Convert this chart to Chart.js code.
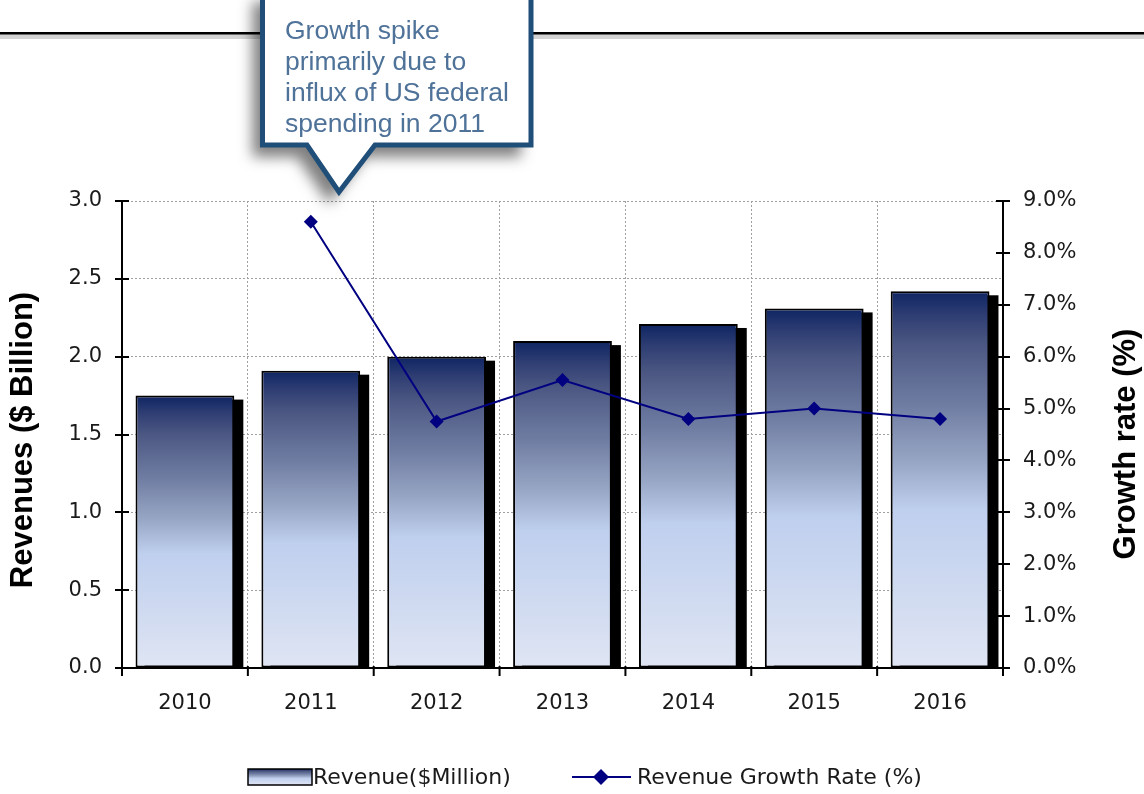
<!DOCTYPE html>
<html><head><meta charset="utf-8">
<script src="https://cdn.jsdelivr.net/npm/chart.js@4/dist/chart.umd.min.js"></script>
<style>html,body{margin:0;padding:0;background:#fff}#wrap{position:relative;width:1144px;height:794px}</style>
</head><body><div id="wrap"><canvas id="c" width="1144" height="794"></canvas></div>
<script>
const categories = ['2010','2011','2012','2013','2014','2015','2016'];
const revenue = [1.75, 1.91, 2.00, 2.10, 2.21, 2.31, 2.42];
const growth = [null, 8.6, 4.75, 5.55, 4.8, 5.0, 4.8];
const leftTicks = [0, 0.5, 1.0, 1.5, 2.0, 2.5, 3.0];
const rightTicks = [0, 1, 2, 3, 4, 5, 6, 7, 8, 9];
const barLabel = 'Revenue($Million)';
const lineLabel = 'Revenue Growth Rate (%)';
const leftTitle = 'Revenues ($ Billion)';
const rightTitle = 'Growth rate (%)';
const calloutLines = ['Growth spike', 'primarily due to', 'influx of US federal', 'spending in 2011'];

const TICK_FONT = '"DejaVu Sans", Verdana, sans-serif';
const ARIAL = '"Liberation Sans", Arial, sans-serif';

function barGradient(ctx, top, bottom) {
  const g = ctx.createLinearGradient(0, top, 0, bottom);
  g.addColorStop(0, '#0e2563');
  g.addColorStop(0.06, '#2d3c72');
  g.addColorStop(0.14, '#4b5782');
  g.addColorStop(0.3, '#6f7ca2');
  g.addColorStop(0.45, '#97a5c4');
  g.addColorStop(0.58, '#bfcfee');
  g.addColorStop(1, '#dfe5f3');
  return g;
}

const decor = {
  id: 'decor',
  beforeDatasetsDraw(chart) {
    const ctx = chart.ctx, ca = chart.chartArea;
    const meta = chart.getDatasetMeta(1);
    ctx.save();
    ctx.beginPath(); ctx.rect(ca.left, ca.top, ca.right - ca.left, ca.bottom - ca.top); ctx.clip();
    ctx.fillStyle = '#000';
    meta.data.forEach(el => {
      const p = el.getProps(['x', 'y', 'base', 'width'], true);
      ctx.fillRect(p.x - p.width / 2 + 9, p.y + 4, p.width, p.base - p.y);
    });
    ctx.restore();
  },
  afterDraw(chart) {
    const ctx = chart.ctx;
    const ys = chart.scales.y, y1 = chart.scales.y1, xs = chart.scales.x;
    ctx.save();
    // top rule
    ctx.fillStyle = '#d4d4d4';
    ctx.fillRect(0, 34, 1144, 5);
    ctx.fillStyle = '#000';
    ctx.fillRect(0, 32, 1144, 2.5);

    // tick marks crossing axes
    ctx.strokeStyle = '#000'; ctx.lineWidth = 2;
    ctx.beginPath();
    ys.ticks.forEach(t => {
      const py = Math.round(ys.getPixelForValue(t.value));
      ctx.moveTo(ys.right - 7, py); ctx.lineTo(ys.right + 7, py);
    });
    y1.ticks.forEach(t => {
      const py = Math.round(y1.getPixelForValue(t.value));
      ctx.moveTo(y1.left - 7, py); ctx.lineTo(y1.left + 7, py);
    });
    const n = categories.length;
    for (let i = 0; i <= n; i++) {
      let px;
      if (i === 0) px = xs.left; else if (i === n) px = xs.right;
      else px = (xs.getPixelForValue(i - 1) + xs.getPixelForValue(i)) / 2;
      ctx.moveTo(px, xs.top - 2); ctx.lineTo(px, xs.top + 8);
    }
    ctx.stroke();

    // axis titles
    ctx.fillStyle = '#000';
    ctx.font = 'bold 31px ' + ARIAL;
    ctx.textAlign = 'center'; ctx.textBaseline = 'middle';
    ctx.save(); ctx.translate(23, 440); ctx.rotate(-Math.PI / 2); ctx.fillText(leftTitle, 0, 0); ctx.restore();
    ctx.save(); ctx.translate(1126, 444); ctx.rotate(-Math.PI / 2); ctx.fillText(rightTitle, 0, 0); ctx.restore();

    // legend
    ctx.fillStyle = barGradient(ctx, 769, 785);
    ctx.fillRect(248, 769, 64, 16);
    ctx.strokeStyle = '#000'; ctx.lineWidth = 1.5;
    ctx.strokeRect(248, 769, 64, 16);
    ctx.fillStyle = '#1a1a1a';
    ctx.font = '22px ' + TICK_FONT;
    ctx.textAlign = 'left'; ctx.textBaseline = 'middle';
    ctx.fillText(barLabel, 313, 778);
    ctx.strokeStyle = '#000080'; ctx.lineWidth = 2;
    ctx.beginPath(); ctx.moveTo(572, 777); ctx.lineTo(631, 777); ctx.stroke();
    ctx.fillStyle = '#000080';
    ctx.beginPath(); ctx.moveTo(601, 769); ctx.lineTo(609, 777); ctx.lineTo(601, 785); ctx.lineTo(593, 777); ctx.closePath(); ctx.fill();
    ctx.fillStyle = '#1a1a1a';
    ctx.fillText(lineLabel, 637, 778);

    // callout
    ctx.save();
    ctx.beginPath();
    ctx.moveTo(262.5, -10); ctx.lineTo(531, -10); ctx.lineTo(531, 145);
    ctx.lineTo(375, 145); ctx.lineTo(339, 192); ctx.lineTo(307, 145);
    ctx.lineTo(262.5, 145); ctx.closePath();
    ctx.shadowColor = 'rgba(0,0,0,0.5)';
    ctx.shadowBlur = 14; ctx.shadowOffsetX = -10; ctx.shadowOffsetY = 12;
    ctx.fillStyle = '#fff'; ctx.fill();
    ctx.shadowColor = 'transparent';
    ctx.lineWidth = 5; ctx.strokeStyle = '#1f4e79'; ctx.lineJoin = 'miter';
    ctx.stroke();
    ctx.restore();
    ctx.fillStyle = '#4f7299';
    ctx.font = '26.5px ' + ARIAL;
    ctx.textAlign = 'left'; ctx.textBaseline = 'middle';
    calloutLines.forEach((l, i) => ctx.fillText(l, 285, 32 + i * 30.8));
    ctx.restore();
  }
};

new Chart(document.getElementById('c'), {
  type: 'bar',
  data: {
    labels: categories,
    datasets: [
      {
        type: 'line', label: lineLabel, data: growth, yAxisID: 'y1', order: 0,
        borderColor: '#000080', borderWidth: 2, pointStyle: 'rectRot', pointRadius: 7,
        pointBackgroundColor: '#000080', pointBorderColor: '#000080', pointBorderWidth: 0,
        spanGaps: false, tension: 0, fill: false
      },
      {
        type: 'bar', label: barLabel, data: revenue, yAxisID: 'y', order: 1,
        borderColor: '#000', borderWidth: 2, borderSkipped: false,
        categoryPercentage: 1, barPercentage: 0.785,
        backgroundColor: (c) => {
          const ch = c.chart;
          if (!ch.chartArea || c.raw == null) return '#8090b0';
          const s = ch.scales.y;
          return barGradient(ch.ctx, s.getPixelForValue(c.raw), s.getPixelForValue(0));
        }
      }
    ]
  },
  options: {
    responsive: false, animation: false, devicePixelRatio: 1,
    layout: { padding: { top: 201, left: 0, right: 0, bottom: 0 } },
    plugins: { legend: { display: false }, tooltip: { enabled: false } },
    scales: {
      x: {
        offset: true,
        grid: { display: true, offset: true, color: '#a0a0a0', lineWidth: 1, drawTicks: false },
        border: { display: true, color: '#000', width: 2, dash: [2, 2] },
        ticks: { color: '#1a1a1a', font: { family: TICK_FONT, size: 21 }, padding: 23 },
        afterFit: s => { s.height = 126; }
      },
      y: {
        position: 'left', min: 0, max: 3,
        afterBuildTicks: s => { s.ticks = leftTicks.map(v => ({ value: v })); },
        grid: { color: '#a0a0a0', lineWidth: 1, drawTicks: false },
        border: { display: true, color: '#000', width: 2, dash: [2, 2] },
        ticks: { color: '#1a1a1a', font: { family: TICK_FONT, size: 21 }, padding: 20, callback: v => Number(v).toFixed(1) },
        afterFit: s => { s.width = 122; }
      },
      y1: {
        position: 'right', min: 0, max: 9,
        afterBuildTicks: s => { s.ticks = rightTicks.map(v => ({ value: v })); },
        grid: { display: false, drawTicks: false },
        border: { display: true, color: '#000', width: 2 },
        ticks: { color: '#1a1a1a', font: { family: TICK_FONT, size: 21 }, padding: 20, callback: v => Number(v).toFixed(1) + '%' },
        afterFit: s => { s.width = 141; }
      }
    }
  },
  plugins: [decor]
});
</script></body></html>
